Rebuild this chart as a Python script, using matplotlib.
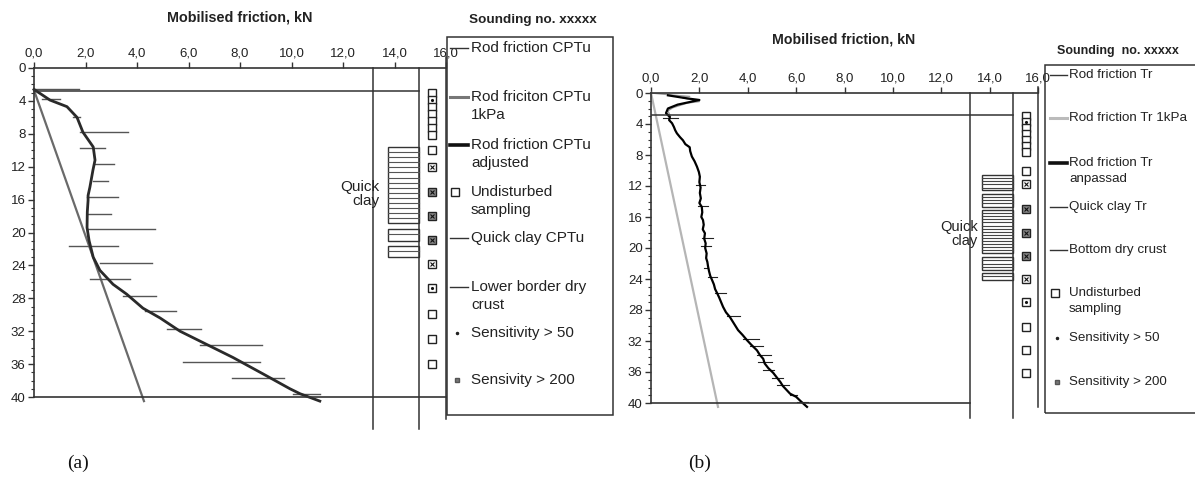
import numpy as np
import matplotlib
matplotlib.use("Agg")
import matplotlib.pyplot as plt
from matplotlib.lines import Line2D
from matplotlib.patches import Rectangle

plt.rcParams['font.family'] = ['Liberation Sans', 'DejaVu Sans']

W, H = 1195, 484

# ---------------- data, panel (a) ----------------
a_adj_depth = [2.6, 3.9, 4.7, 6.0, 7.8, 9.6, 11.2, 12.4, 14.5, 15.5, 16.1, 17.5, 19.4, 21.0,
               23.0, 24.6, 26.3, 27.5, 29.2, 30.4, 32.0, 33.6, 35.2, 37.2, 39.0, 39.6, 40.5]
a_adj_x = [0.0, 0.62, 1.28, 1.67, 1.9, 2.3, 2.37, 2.29, 2.17, 2.1, 2.1, 2.07, 2.06, 2.14,
           2.3, 2.56, 3.07, 3.6, 4.23, 4.9, 5.67, 6.7, 7.73, 8.9, 9.94, 10.33, 11.1]
a_1kpa_depth = [2.7, 40.5]
a_1kpa_x = [0.0, 4.27]
a_spike_depth = [2.6, 3.8, 5.9, 7.8, 9.7, 11.7, 13.7, 15.7, 17.7, 19.6, 21.6, 23.7, 25.7,
                 27.7, 29.6, 31.7, 33.7, 35.7, 37.7, 39.6]
a_spike_left = [0.0, 0.3, 1.5, 1.8, 1.8, 2.37, 2.29, 2.06, 2.06, 2.1, 1.36, 2.56, 2.17,
                3.46, 4.31, 5.16, 6.45, 5.8, 7.7, 10.06]
a_spike_right = [1.76, 1.0, 1.8, 3.65, 2.76, 3.1, 2.88, 3.26, 3.0, 4.7, 3.26, 4.58, 3.73,
                 4.74, 5.5, 6.49, 8.86, 8.78, 9.71, 11.1]
a_crust = 2.77
a_quick_line = 13.17
a_sample_line = 14.95
a_quick_blocks = [(9.6, 18.9), (19.6, 21.0), (21.6, 23.0)]
a_stack_kinds = ['plain', 'dot', 'plain', 'plain', 'plain', 'plain', 'plain']
a_samp_depth = [10.0, 12.0, 15.1, 18.0, 20.9, 23.8, 26.8, 29.9, 32.9, 36.0]
a_samp_kind = ['plain', 'x', 'xfill', 'xfill', 'xfill', 'x', 'dot', 'plain', 'plain', 'plain']
a_legend = ["Rod friction CPTu", "Rod friciton CPTu\n1kPa", "Rod friction CPTu\nadjusted",
            "Undisturbed\nsampling", "Quick clay CPTu", "Lower border dry\ncrust",
            "Sensitivity > 50", "Sensivity > 200"]

# ---------------- data, panel (b) ----------------
b_adj_depth = [0.3, 0.7, 0.9, 1.5, 2.0, 2.6, 3.1, 3.5, 3.9, 4.4, 4.8, 5.2, 5.7, 6.1, 6.6,
               7.0, 7.5, 8.2, 8.8, 9.5, 10.2, 10.8, 11.5, 12.2, 12.9, 13.6, 14.2, 14.7, 15.4,
               16.0, 16.4, 17.0, 17.6, 18.1, 18.8, 19.4, 20.0, 20.7, 21.3, 21.8, 22.4, 23.0,
               23.6, 24.1, 24.7, 25.3, 25.8, 26.4, 27.0, 27.6, 28.3, 28.9, 29.5, 30.0, 30.6,
               31.2, 31.9, 32.5, 33.2, 33.8, 34.3, 34.9, 35.5, 36.1, 36.7, 37.3, 37.8, 38.3,
               38.8, 39.2, 39.8, 40.5]
b_adj_x = [0.7, 1.5, 2.0, 1.1, 0.7, 0.62, 0.78, 0.75, 0.87, 0.95, 1.0, 1.07, 1.2, 1.32, 1.42,
           1.6, 1.62, 1.69, 1.8, 1.9, 1.98, 2.02, 2.0, 2.05, 2.02, 2.06, 2.0, 2.1, 2.12,
           2.08, 2.15, 2.18, 2.14, 2.23, 2.2, 2.26, 2.24, 2.3, 2.28, 2.33, 2.36, 2.4,
           2.45, 2.52, 2.6, 2.65, 2.73, 2.82, 2.9, 2.98, 3.1, 3.26, 3.38, 3.48, 3.6,
           3.78, 3.97, 4.15, 4.38, 4.5, 4.64, 4.7, 4.85, 5.05, 5.2, 5.35, 5.45, 5.6,
           5.75, 6.0, 6.2, 6.45]
b_raw_depth = [0.0, 0.3, 0.45, 0.6, 1.1, 1.3, 1.9, 2.3, 3.0]
b_raw_x = [0.0, 1.0, 1.6, 1.3, 2.0, 1.5, 0.9, 0.7, 0.8]
b_1kpa_depth = [0.0, 40.5]
b_1kpa_x = [0.0, 2.77]
b_spike_depth = [3.2, 11.9, 14.6, 18.7, 19.7, 22.6, 23.7, 25.8, 28.8, 31.7, 32.6, 33.8,
                 34.7, 35.7, 36.8, 37.7, 39.0, 39.9]
b_spike_left = [0.5, 1.86, 1.95, 2.1, 2.05, 2.2, 2.36, 2.64, 3.14, 3.8, 4.09, 4.38,
                4.42, 4.63, 5.0, 5.2, 5.74, 6.03]
b_spike_right = [1.1, 2.23, 2.35, 2.56, 2.5, 2.35, 2.73, 3.1, 3.68, 4.46, 4.63, 4.96,
                 5.0, 5.08, 5.45, 5.7, 6.03, 6.49]
b_crust = 2.84
b_quick_line = 13.2
b_sample_line = 14.96
b_quick_blocks = [(10.6, 12.5), (13.0, 14.7), (15.1, 20.6), (21.2, 22.8), (23.2, 24.1)]
b_stack_kinds = ['plain', 'dot', 'plain', 'plain', 'plain', 'plain', 'plain']
b_samp_depth = [10.0, 11.7, 15.0, 18.0, 21.0, 24.0, 27.0, 30.2, 33.2, 36.1]
b_samp_kind = ['plain', 'x', 'xfill', 'xfill', 'xfill', 'x', 'dot', 'plain', 'plain', 'plain']
b_legend = ["Rod friction Tr", "Rod friction Tr 1kPa", "Rod friction Tr\nanpassad",
            "Quick clay Tr", "Bottom dry crust", "Undisturbed\nsampling",
            "Sensitivity > 50", "Sensitivity > 200"]

fig = plt.figure(figsize=(W / 100, H / 100), dpi=100)


def fx(x):
    return x / W


def fy(y):
    return 1 - y / H


def setup(ax):
    ax.set_xlim(0, 16)
    ax.set_ylim(40, 0)
    ax.xaxis.tick_top()
    ax.set_xticks(np.arange(0, 17, 2))
    ax.set_xticklabels([f"{v:.1f}".replace('.', ',') for v in np.arange(0, 17, 2)])
    ax.set_yticks(np.arange(0, 41, 4))
    ax.set_yticks(np.arange(0, 41, 1), minor=True)
    ax.tick_params(axis='both', which='major', direction='out', length=4, width=1,
                   labelsize=9.5, pad=2, color='#333', labelcolor='#222')
    ax.tick_params(axis='y', which='minor', direction='out', length=2.5, width=0.8, color='#333')
    ax.tick_params(axis='x', which='both', top=True, bottom=False)
    ax.spines['right'].set_visible(False)
    for s in ['top', 'left', 'bottom']:
        ax.spines[s].set_color('#333')
        ax.spines[s].set_linewidth(1.2)
    ax.patch.set_alpha(0)


def samples(ax, xpos, stack_start, stack_step, stack_kinds, depths, kinds):
    allk = list(zip([stack_start + i * stack_step for i in range(len(stack_kinds))], stack_kinds))
    allk += list(zip(depths, kinds))
    for d, k in allk:
        fc = '#888' if k == 'xfill' else 'white'
        ax.plot(xpos, d, marker='s', ms=5.3, mfc=fc, mec='#222', mew=1.0, clip_on=False)
        if k == 'dot':
            ax.plot(xpos, d, marker='.', ms=2.5, color='#111', clip_on=False)
        if k in ('x', 'xfill'):
            ax.plot(xpos, d, marker='x', ms=3.5, mew=0.8, color='#111', clip_on=False)


def quick(ax, blocks, x0, x1, step, lc):
    for top, bot in blocks:
        ax.add_patch(Rectangle((x0, top), x1 - x0, bot - top, fill=False, ec='#333', lw=1.0))
        for d in np.arange(top + step, bot - step / 2, step):
            ax.plot([x0, x1], [d, d], color=lc, lw=0.8)


# ---------- panel (a) ----------
axa = fig.add_axes([fx(34), fy(397), fx(446 - 34), (397 - 68) / H])
setup(axa)
axa.plot(a_1kpa_x, a_1kpa_depth, color='#6a6a6a', lw=1.6, clip_on=False)
for d, l, r in zip(a_spike_depth, a_spike_left, a_spike_right):
    axa.plot([l, r], [d, d], color='#555', lw=1.0)
axa.plot(a_adj_x, a_adj_depth, color='#2a2a2a', lw=2.0, clip_on=False)
axa.plot([0, a_sample_line], [a_crust, a_crust], color='#333', lw=1.1)
axa.plot([a_quick_line, a_quick_line], [0, 43.9], color='#333', lw=1.1, clip_on=False)
axa.plot([a_sample_line, a_sample_line], [0, 43.9], color='#333', lw=1.1, clip_on=False)
axa.plot([16, 16], [-1.3, 42.7], color='#333', lw=1.1, clip_on=False)
quick(axa, a_quick_blocks, 13.75, a_sample_line, 0.62, '#555')
samples(axa, 15.45, 3.05, 0.85, a_stack_kinds, a_samp_depth, a_samp_kind)
axa.text(13.4, 15.3, "Quick\nclay", ha='right', va='center', fontsize=11, color='#222',
         linespacing=1.05)

# ---------- panel (b) ----------
axb = fig.add_axes([fx(651), fy(403), fx(1038 - 651), (403 - 93) / H])
setup(axb)
axb.spines['bottom'].set_bounds(0, b_quick_line)
axb.plot(b_1kpa_x, b_1kpa_depth, color='#b5b5b5', lw=1.6, clip_on=False)
axb.plot(b_raw_x, b_raw_depth, color='#999', lw=1.0)
for d, l, r in zip(b_spike_depth, b_spike_left, b_spike_right):
    axb.plot([l, r], [d, d], color='#222', lw=0.8)
axb.plot(b_adj_x, b_adj_depth, color='black', lw=1.6, clip_on=False)
axb.plot([0, b_sample_line], [b_crust, b_crust], color='#333', lw=1.1)
axb.plot([b_quick_line, b_quick_line], [0, 41.9], color='#333', lw=1.1, clip_on=False)
axb.plot([b_sample_line, b_sample_line], [0, 41.9], color='#333', lw=1.1, clip_on=False)
axb.plot([16, 16], [-0.8, 40.5], color='#333', lw=1.1, clip_on=False)
quick(axb, b_quick_blocks, 13.7, b_sample_line, 0.4, '#444')
samples(axb, 15.5, 2.95, 0.78, b_stack_kinds, b_samp_depth, b_samp_kind)
axb.text(13.5, 18.2, "Quick\nclay", ha='right', va='center', fontsize=10.5, color='#222',
         linespacing=1.05)

# ---------- titles ----------
fig.text(fx(240), fy(18), "Mobilised friction, kN", ha='center', va='center',
         fontsize=10.4, fontweight='bold', color='#222')
fig.text(fx(844), fy(40), "Mobilised friction, kN", ha='center', va='center',
         fontsize=10.2, fontweight='bold', color='#222')
fig.text(fx(533), fy(20), "Sounding no. xxxxx", ha='center', va='center',
         fontsize=9.7, fontweight='bold', color='#222')
fig.text(fx(1118), fy(51), "Sounding  no. xxxxx", ha='center', va='center',
         fontsize=9, fontweight='bold', color='#222')


# ---------- legends (drawn by hand) ----------
def legend(box, ys, labels, styles, hx0, hx1, mx, tx, size, gap):
    x0, y0, x1, y1 = box
    fig.add_artist(Rectangle((fx(x0), fy(y1)), fx(x1 - x0), (y1 - y0) / H, fill=False,
                             ec='#333', lw=1.1, transform=fig.transFigure))
    for y, lab, st in zip(ys, labels, styles):
        kind, col, lw = st
        if kind == 'line':
            fig.add_artist(Line2D([fx(hx0), fx(hx1)], [fy(y), fy(y)], color=col, lw=lw))
        elif kind == 'sq':
            fig.add_artist(Line2D([fx(mx)], [fy(y)], marker='s', ms=5.5,
                                  mfc='white', mec='#222', mew=1.0, ls='none'))
        elif kind == 'dot':
            fig.add_artist(Line2D([fx(mx + 2)], [fy(y)], marker='.', ms=3,
                                  color='#222', ls='none'))
        elif kind == 'gsq':
            fig.add_artist(Line2D([fx(mx + 2)], [fy(y)], marker='s', ms=3.5,
                                  mfc='#777', mec='#555', ls='none'))
        for i, line in enumerate(lab.split('\n')):
            fig.text(fx(tx), fy(y + i * gap), line, ha='left', va='center', fontsize=size,
                     color='#222')


a_styles = [('line', '#333', 1.0), ('line', '#777', 2.2), ('line', '#111', 2.6), ('sq', None, 0),
            ('line', '#333', 1.0), ('line', '#333', 1.0), ('dot', None, 0), ('gsq', None, 0)]
a_ys = [48, 97, 145, 192, 238, 287, 333, 380]
b_styles = [('line', '#333', 1.0), ('line', '#bbb', 2.2), ('line', '#111', 2.6), ('line', '#333', 1.0),
            ('line', '#333', 1.0), ('sq', None, 0), ('dot', None, 0), ('gsq', None, 0)]
b_ys = [75, 118, 163, 207, 250, 293, 338, 382]

legend((447, 37, 613, 415), a_ys, a_legend, a_styles, 450, 468, 455, 471, 11, 18)
legend((1045, 65, 1210, 413), b_ys, b_legend, b_styles, 1050, 1067, 1055, 1069, 9.6, 16)

# ---------- panel labels ----------
fig.text(fx(78), fy(463), "(a)", ha='center', va='center', fontsize=14,
         family=['Liberation Serif', 'DejaVu Serif'], color='#111')
fig.text(fx(700), fy(463), "(b)", ha='center', va='center', fontsize=14,
         family=['Liberation Serif', 'DejaVu Serif'], color='#111')

fig.savefig("out.png", dpi=100)
